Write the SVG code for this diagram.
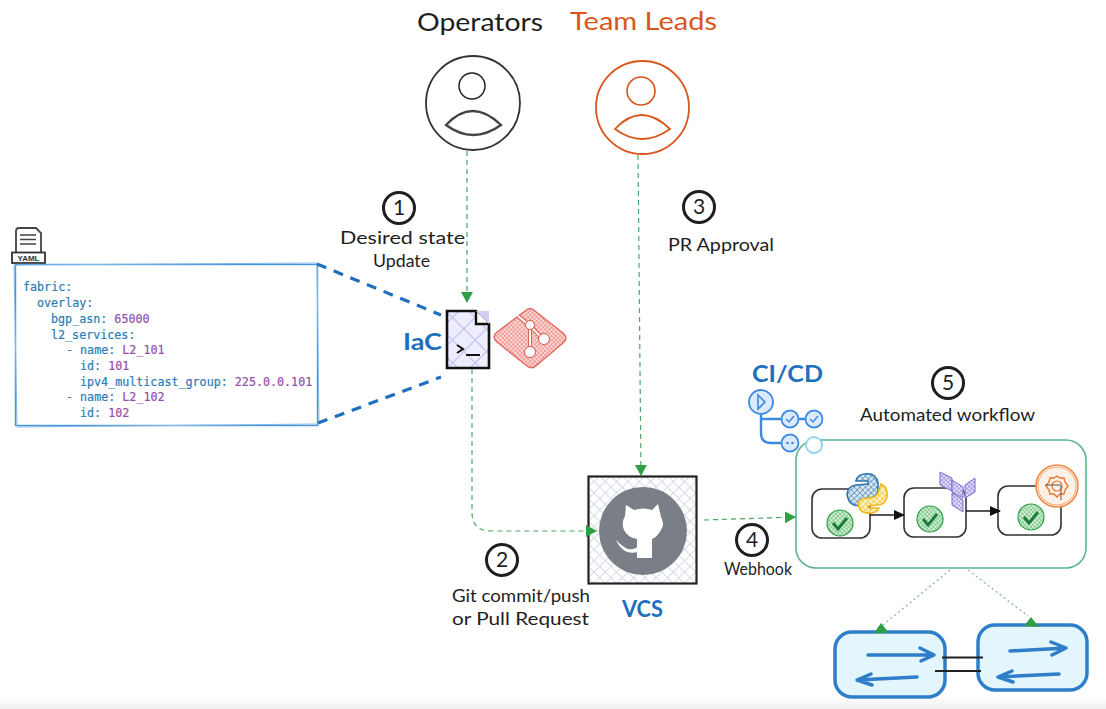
<svg xmlns="http://www.w3.org/2000/svg" width="1106" height="709" viewBox="0 0 1106 709">
<style>
.hand{font-family:"Lato","Liberation Sans",sans-serif;fill:#1e1e1e;font-size:18px}
.big{font-size:25px}
.blue{fill:#1f6fbf;font-size:22px;font-weight:700}
.orange{fill:#d9561a}
.num{font-size:21px;text-anchor:middle}
.ring{fill:#fff;stroke:#1e1e1e;stroke-width:3}
.code{font-family:"DejaVu Sans Mono","Liberation Mono",monospace;font-size:11.7px;font-weight:400;fill:#2a7cb5;stroke:#2a7cb5;stroke-width:.2}
.val{fill:#9350ab;stroke:#9350ab}
.flow{fill:none;stroke:#4aa865;stroke-width:1.2;stroke-dasharray:5 4}
.dot{fill:none;stroke:#8fb5a8;stroke-width:1.3;stroke-dasharray:2 3}
.dash{fill:none;stroke:#1f6fbf;stroke-width:3.200;stroke-dasharray:10 8}
.head{fill:#2f9e44}
.step{fill:#fff;stroke:#333;stroke-width:1.6}
.arrow{fill:none;stroke:#1e1e1e;stroke-width:1.6}
.chk{fill:url(#hGreen);stroke:#2f9e44;stroke-width:1.2}
.tick{fill:none;stroke:#1b7a34;stroke-width:2.8}
.pipe{fill:none;stroke:#3d8be0;stroke-width:2.4}
.pc{fill:#dceafc;stroke:#3d8be0;stroke-width:1.8}
.sw{fill:#e4f6fd;stroke:#2f7ec9;stroke-width:3.5}
.swa{fill:none;stroke:#2f7ec9;stroke-width:3.5;stroke-linecap:round;stroke-linejoin:round}
.tf{fill:url(#hPurple);stroke:#7b6bd0}
</style>
<defs>
<marker id="g" markerWidth="13" markerHeight="13" refX="11" refY="6" orient="auto" markerUnits="userSpaceOnUse"><path d="M0 0L11 6L0 12Z" fill="#2f9e44"/></marker>
<marker id="k" markerWidth="12" markerHeight="12" refX="10" refY="5" orient="auto" markerUnits="userSpaceOnUse"><path d="M0 0L11 5L0 10Z" fill="#111"/></marker>
<pattern id="hLilac" width="16" height="16" patternUnits="userSpaceOnUse" patternTransform="rotate(45)"><rect width="16" height="16" fill="#eeecff"/><path d="M0 0H16M0 0V16" stroke="#bdbbf0" stroke-width="2"/></pattern>
<pattern id="hRed" width="3" height="3" patternUnits="userSpaceOnUse" patternTransform="rotate(45)"><rect width="3" height="3" fill="#fbdcd8"/><path d="M0 0H3M0 0V3" stroke="#e5675f" stroke-width=".9"/></pattern>
<pattern id="hGrey" width="8" height="8" patternUnits="userSpaceOnUse" patternTransform="rotate(45)"><rect width="8" height="8" fill="#fff"/><path d="M0 0H8M0 0V8" stroke="#d5d9e6" stroke-width="1.8"/></pattern>
<pattern id="hGreen" width="3" height="3" patternUnits="userSpaceOnUse" patternTransform="rotate(45)"><rect width="3" height="3" fill="#d6f0da"/><path d="M0 0H3M0 0V3" stroke="#3fae55" stroke-width=".9"/></pattern>
<pattern id="hBlue" width="4" height="4" patternUnits="userSpaceOnUse" patternTransform="rotate(45)"><rect width="4" height="4" fill="#dbe8f4"/><path d="M0 0H4M0 0V4" stroke="#2f74a8" stroke-width="1.2"/></pattern>
<pattern id="hYellow" width="4" height="4" patternUnits="userSpaceOnUse" patternTransform="rotate(45)"><rect width="4" height="4" fill="#fdf2c4"/><path d="M0 0H4M0 0V4" stroke="#efb91d" stroke-width="1.2"/></pattern>
<pattern id="hPurple" width="3" height="3" patternUnits="userSpaceOnUse" patternTransform="rotate(45)"><rect width="3" height="3" fill="#e6e1fa"/><path d="M0 0H3M0 0V3" stroke="#7b6bd0" stroke-width=".9"/></pattern>
<linearGradient id="fade" x1="0" y1="0" x2="0" y2="1"><stop offset="0" stop-color="#fff"/><stop offset="1" stop-color="#efefef"/></linearGradient>
</defs>
<rect width="1106" height="709" fill="#fff"/>
<rect y="696" width="1106" height="13" fill="url(#fade)"/>

<g id="operators">
<text class="hand big" x="417" y="31" textLength="126" lengthAdjust="spacingAndGlyphs">Operators</text>
<circle cx="473" cy="103" r="47" fill="none" stroke="#333" stroke-width="1.8"/>
<circle cx="472" cy="86" r="13" fill="none" stroke="#222" stroke-width="1.5"/>
<path d="M446 125Q472 97 501 125Q473 145 446 125Z" fill="none" stroke="#444" stroke-width="2.4"/>
</g>

<g id="team-leads">
<text class="hand big orange" x="570" y="30" textLength="147" lengthAdjust="spacingAndGlyphs">Team Leads</text>
<circle cx="642.500" cy="107.500" r="46.500" fill="none" stroke="#d9561a" stroke-width="1.8"/>
<circle cx="641" cy="91" r="14" fill="none" stroke="#d9561a" stroke-width="1.6"/>
<path d="M615 129Q641 101 670 129Q642 149 615 129Z" fill="none" stroke="#d9561a" stroke-width="1.8"/>
</g>

<g id="step-1">
<circle class="ring" cx="399" cy="208" r="15.500"/>
<text class="hand num" x="399" y="215">1</text>
<text class="hand" x="340" y="244" textLength="125" lengthAdjust="spacingAndGlyphs">Desired state</text>
<text class="hand" x="373" y="267" textLength="57" lengthAdjust="spacingAndGlyphs">Update</text>
</g>
<g id="step-3">
<circle class="ring" cx="699" cy="207" r="15.500"/>
<text class="hand num" x="699" y="214">3</text>
<text class="hand" x="668" y="251" textLength="106" lengthAdjust="spacingAndGlyphs">PR Approval</text>
</g>
<g id="step-2">
<circle class="ring" cx="502" cy="560" r="15.500"/>
<text class="hand num" x="502" y="567">2</text>
<text class="hand" x="452" y="602" textLength="138" lengthAdjust="spacingAndGlyphs">Git commit/push</text>
<text class="hand" x="452" y="625" textLength="137" lengthAdjust="spacingAndGlyphs">or Pull Request</text>
</g>
<g id="step-4">
<circle class="ring" cx="752" cy="540" r="15.500"/>
<text class="hand num" x="752" y="547">4</text>
<text class="hand" x="724" y="575" textLength="68" lengthAdjust="spacingAndGlyphs">Webhook</text>
</g>
<g id="step-5">
<circle class="ring" cx="948" cy="383" r="15.500"/>
<text class="hand num" x="948" y="390">5</text>
<text class="hand" x="860" y="421" textLength="175" lengthAdjust="spacingAndGlyphs">Automated workflow</text>
</g>

<g id="yaml-file">
<path d="M16 252V231Q16 228 19 228H36L41 233V252" fill="#fff" stroke="#444" stroke-width="1.8"/>
<path d="M20 235H36M20 239.500H36M20 244H36" stroke="#444" stroke-width="1.5"/>
<rect x="12" y="252.500" width="33" height="10.500" fill="#fff" stroke="#333" stroke-width="1.8"/>
<text x="28.500" y="261" text-anchor="middle" font-family="Liberation Sans,sans-serif" font-size="8" font-weight="700" fill="#333">YAML</text>
<rect x="15.500" y="264.500" width="302" height="161" fill="#fff" stroke="#4a94d8" stroke-width="1.4"/>
<path d="M14 265L317 263L319 424L17 427Z" fill="none" stroke="#7fb6e6" stroke-width="1"/>
<text class="code" x="23" y="291">fabric:</text>
<text class="code" x="37" y="307">overlay:</text>
<text class="code" x="51" y="323">bgp_asn: <tspan class="val">65000</tspan></text>
<text class="code" x="51" y="339">l2_services:</text>
<text class="code" x="66" y="354">- name: <tspan class="val">L2_101</tspan></text>
<text class="code" x="80" y="370">id: <tspan class="val">101</tspan></text>
<text class="code" x="80" y="386">ipv4_multicast_group: <tspan class="val">225.0.0.101</tspan></text>
<text class="code" x="66" y="401">- name: <tspan class="val">L2_102</tspan></text>
<text class="code" x="80" y="417">id: <tspan class="val">102</tspan></text>
</g>

<g id="iac">
<text class="hand blue" x="403" y="350" textLength="39" lengthAdjust="spacingAndGlyphs">IaC</text>
<path d="M447 311H476L489 324V368H447Z" fill="url(#hLilac)" stroke="#111" stroke-width="2.6"/>
<path d="M476 311V324H489" fill="#fff" stroke="#111" stroke-width="2.4"/>
<path d="M476 311H489V324Z" fill="#cfcdf5"/>
<path d="M457 345L463 349L457 353M466 355H480" fill="none" stroke="#111" stroke-width="2"/>
</g>

<g id="git-logo">
<path d="M525 311Q530 306 535 311L563 333Q569 338 563 343L537 365Q532 370 527 366L497 342Q491 337 497 332Z" fill="url(#hRed)" stroke="#e5675f" stroke-width="1.4"/>
<path d="M518 316L530 326V351M530 326L544 340" fill="none" stroke="#d9534b" stroke-width="4"/>
<path d="M518 316L530 326V351M530 326L544 340" fill="none" stroke="#fff" stroke-width="2.200"/>
<circle cx="530" cy="325" r="4.500" fill="#fff" stroke="#d9534b"/><circle cx="544" cy="339" r="5.500" fill="#fff" stroke="#d9534b"/><circle cx="530" cy="352" r="5.500" fill="#fff" stroke="#d9534b"/>
</g>

<g id="vcs">
<rect x="588.500" y="476.500" width="108" height="107" fill="url(#hGrey)" stroke="#222" stroke-width="2.2"/>
<circle cx="643" cy="531" r="44" fill="#7a7f87"/>
<path d="M626 505L634 510Q644 507 652 510L658 504L661 517Q665 524 661 530Q657 537 652 539V558H637V539Q627 537 624 530Q621 523 625 516Z" fill="#fff"/>
<path d="M616 540Q624 548 628 549Q633 550 638 547V552Q630 554 625 551Q619 547 616 540Z" fill="#fff"/>
<text class="hand blue" x="622" y="617" textLength="41" lengthAdjust="spacingAndGlyphs">VCS</text>
</g>

<g id="cicd">
<text class="hand blue" x="752" y="382" textLength="71" lengthAdjust="spacingAndGlyphs">CI/CD</text>
<path class="pipe" d="M761 414V433Q761 443 771 443H781M761 419H781M799 419H805"/>
<circle class="pc" cx="761" cy="402" r="12"/>
<path d="M758 395L765 402L758 409Z" fill="none" stroke="#3d8be0" stroke-width="1.6"/>
<circle class="pc" cx="790" cy="419" r="8.500"/><circle class="pc" cx="814" cy="419" r="8.500"/><circle class="pc" cx="790" cy="443" r="8.500"/>
<path d="M786 419L789 422L794 416M810 419L813 422L818 416" fill="none" stroke="#3d8be0" stroke-width="1.5"/>
<circle cx="787.500" cy="443" r="1.300" fill="#3d8be0"/><circle cx="792.500" cy="443" r="1.300" fill="#3d8be0"/>
</g>

<g id="workflow">
<rect x="796" y="440" width="290" height="128" rx="20" fill="#fff" stroke="#5cb592" stroke-width="1.6"/>
<circle cx="814" cy="445" r="8" fill="#fff" stroke="#8fd2f0" stroke-width="1.8"/>
<rect class="step" x="812" y="489" width="58" height="49" rx="10"/>
<rect class="step" x="904" y="488" width="62" height="49" rx="10"/>
<rect class="step" x="998" y="486" width="63" height="49" rx="10"/>
<path class="arrow" d="M870 515H904" marker-end="url(#k)"/>
<path class="arrow" d="M966 511H1000" marker-end="url(#k)"/>
<circle class="chk" cx="840" cy="523" r="13"/><path class="tick" d="M833 523L838 529L847 518"/>
<circle class="chk" cx="930" cy="519" r="13"/><path class="tick" d="M923 519L928 525L937 514"/>
<circle class="chk" cx="1031" cy="517" r="13"/><path class="tick" d="M1024 517L1029 523L1038 512"/>
</g>

<g id="python-logo">
<path d="M864 474Q876 472 878 483V493Q877 498 868 498Q861 499 860 505Q857 506 854 505Q848 503 847 494Q848 486 856 485L868 484V481H856Q857 475 864 474Z" fill="url(#hBlue)" stroke="#2f74a8" stroke-width="1.6"/>
<path d="M881 484Q888 487 887 497Q885 505 877 505L868 506V508H879Q877 513 870 513Q860 514 858 504Q859 498 868 498Q878 498 879 490Z" fill="url(#hYellow)" stroke="#efb91d" stroke-width="1.6"/>
</g>

<g id="terraform-logo">
<path class="tf" d="M940 472L952 478V491L940 485Z"/>
<path class="tf" d="M952 480L963 487V498L952 492Z"/>
<path class="tf" d="M952 493L963 500V512L952 505Z"/>
<path class="tf" d="M965 485L975 478V492L965 498Z"/>
</g>

<g id="ansible-logo">
<circle cx="1057" cy="486" r="21" fill="#fdf1e8" stroke="#ef8c4a" stroke-width="1.6"/>
<circle cx="1057" cy="486" r="19" fill="none" stroke="#f3a86f" stroke-width="1"/>
<path d="M1057 476L1060 478L1064 478L1065 482L1068 486L1065 490L1064 494L1060 494L1057 497L1054 494L1050 494L1049 490L1046 486L1049 482L1050 478L1054 478Z" fill="none" stroke="#e8762b" stroke-width="1.4"/>
<circle cx="1057" cy="486" r="5" fill="none" stroke="#e8762b" stroke-width="1.2"/>
<path d="M1045 485H1061M1061 486V500" stroke="#555" stroke-width="1"/>
</g>

<g id="switch-a">
<rect class="sw" x="835" y="632" width="110" height="65" rx="17"/>
<path class="swa" d="M868 655H934M920 648L934 655L921 661M917 677L857 680M871 674L857 680L872 685"/>
</g>
<g id="switch-b">
<rect class="sw" x="978" y="625" width="109" height="65" rx="17"/>
<path class="swa" d="M1010 651L1066 648M1051 642L1066 648L1052 655M1059 674L998 677M1012 671L998 677L1013 682"/>
</g>
<g id="links">
<path d="M942 657.500H983M935 671H981" stroke="#222" stroke-width="2"/>
</g>

<g id="connectors">
<path class="flow" d="M467 151V303" marker-end="url(#g)"/>
<path class="flow" d="M472 369V512Q472 531 491 531H597" marker-end="url(#g)"/>
<path class="flow" d="M638 155L641 476" marker-end="url(#g)"/>
<path class="flow" d="M704 520L796 517" marker-end="url(#g)"/>
<path class="dot" d="M950 570L883 625"/>
<path class="dot" d="M968 570L1028 616"/>
<path class="head" d="M881 623L874 633H889Z"/>
<path class="head" d="M1031 617L1024 626L1039 627Z"/>
<path class="dash" d="M317 264L441 315"/>
<path class="dash" d="M318 423L441 377"/>
</g>
</svg>
